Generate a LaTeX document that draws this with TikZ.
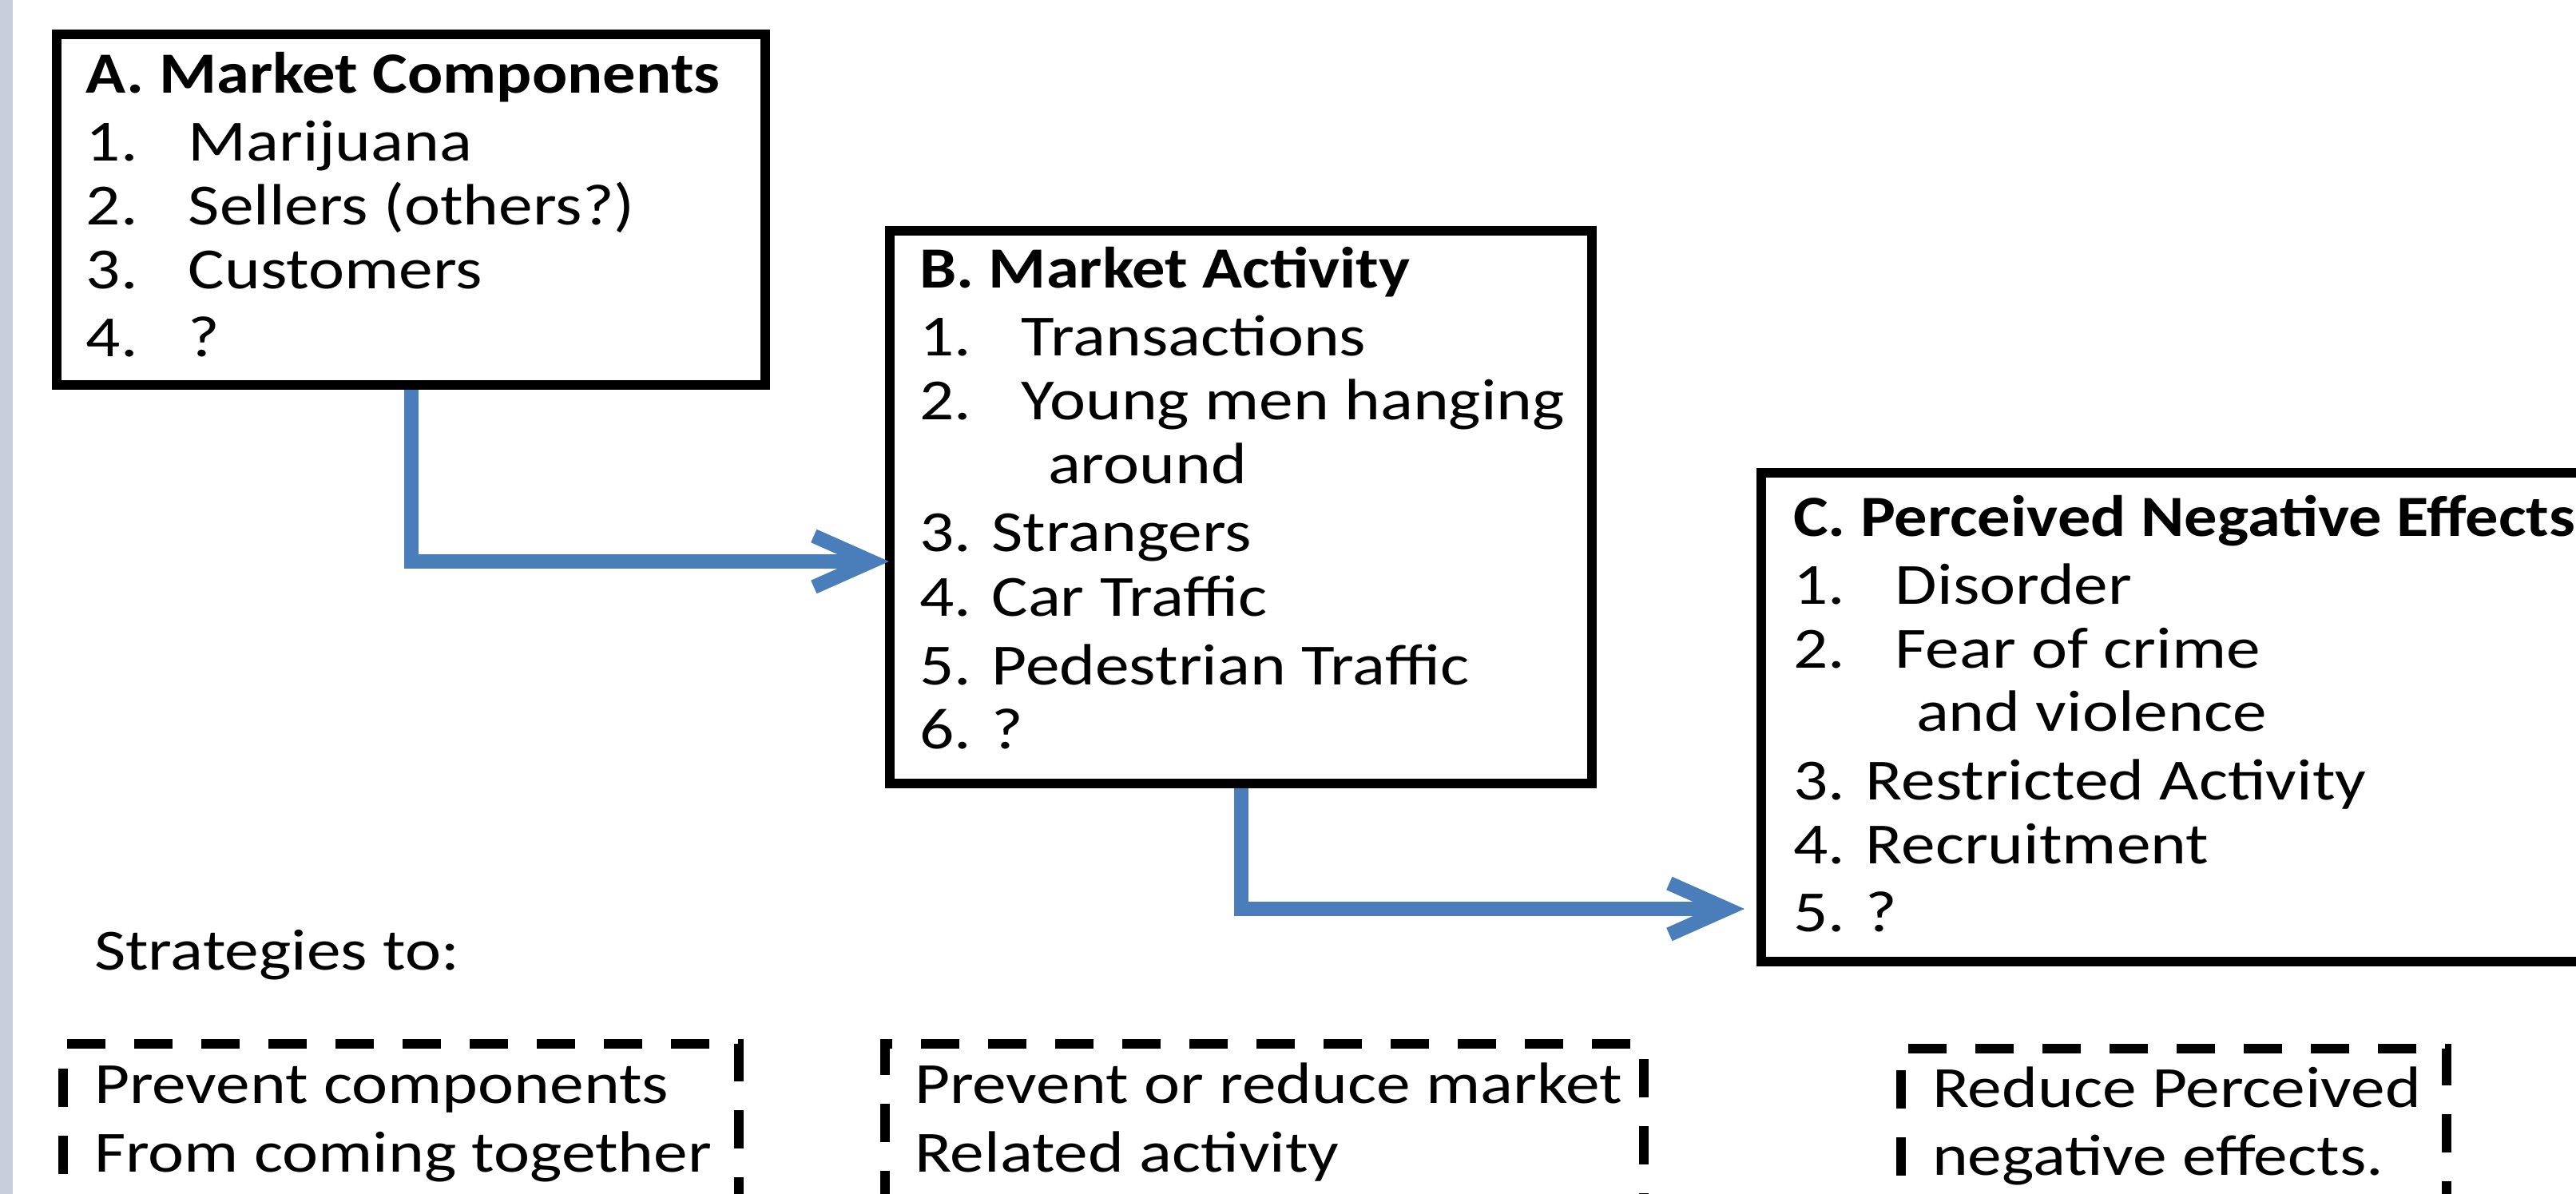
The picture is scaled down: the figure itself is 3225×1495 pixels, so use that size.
\documentclass[tikz,border=0pt]{standalone}
\usepackage{fontspec}
\setmainfont[FakeStretch=1.17, BoldFeatures={FakeStretch=1.13}]{Carlito}
\usetikzlibrary{arrows.meta}

\definecolor{flowblue}{HTML}{4A7EBB}
\definecolor{stripgrey}{HTML}{C8CEDB}
\newcommand{\itemno}[1]{\makebox[32pt][l]{#1}}

\tikzset{every picture/.style={line width=3pt}}

\begin{document}
\begin{tikzpicture}[x=0.25pt,y=0.25pt,yscale=-1,xscale=1,
  box/.style={draw, rectangle, line width=3pt, inner sep=0pt, outer sep=0pt},
  dashbox/.style={box, dash pattern=on 12pt off 9pt},
  txt/.style={anchor=base west, inner sep=0pt, font=\fontsize{18.25}{20.5}\selectfont},
  head/.style={txt, font=\fontsize{18.25}{20.5}\selectfont\bfseries},
  flow/.style={draw=flowblue, line width=4.5pt, shorten <=1.5pt, -{Straight Barb[length=18pt,width=16pt]}}]
\useasboundingbox (0,0) rectangle (3225,1495);
\clip (0,0) rectangle (3225,1495);
\fill[white] (0,0) rectangle (3225,1495);
%Shape: Rectangle (side strip)
\fill[stripgrey] (0,0) rectangle (16,1495);

%Shape: Rectangle [A]
\node[box, minimum width=221.75pt, minimum height=109.75pt] (boxA) at (514.5,262.5) {};
%Shape: Rectangle [B]
\node[box, minimum width=219.75pt, minimum height=173pt] (boxB) at (1553.5,635) {};
%Shape: Rectangle [C]
\node[box, minimum width=273.75pt, minimum height=153pt] (boxC) at (2752.5,898) {};

%Shape: Rectangle [dashed]
\node[dashbox, minimum width=211.5pt, minimum height=73.25pt] (stratA) at (502,1453.5) {};
\node[dashbox, minimum width=237.5pt, minimum height=73.25pt] (stratB) at (1583,1453.5) {};
\node[dashbox, minimum width=170.75pt, minimum height=71.75pt] (stratC) at (2721.5,1456.5) {};

\coordinate (hitB) at (1113,703);
\coordinate (hitC) at (2184,1138);
%Connector
\draw[flow] (boxA.south) |- (hitB);
%Connector
\draw[flow] (boxB.south) |- (hitC);

% Text Node
\node[head] (titleA) at (102,117) {A. Market Components};
\node[txt] (a1) at (102,202) {\itemno{1.}Marijuana};
\node[txt] (a2) at (102,282) {\itemno{2.}Sellers (others?)};
\node[txt] (a3) at (102,362) {\itemno{3.}Customers};
\node[txt] (a4) at (102,447) {\itemno{4.}?};

% Text Node
\node[head] (titleB) at (1145,361) {B. Market Activity};
\node[txt] (b1) at (1145,446) {\itemno{1.}Transactions};
\node[txt] (b2) at (1145,526) {\itemno{2.}Young men hanging};
\node[txt] (b2x) at (1306,606) {around};
\node[txt] (b3) at (1145,691) {3. Strangers};
\node[txt] (b4) at (1145,772) {4. Car Traffic};
\node[txt] (b5) at (1145,858) {5. Pedestrian Traffic};
\node[txt] (b6) at (1145,938) {6. ?};

% Text Node
\node[head] (titleC) at (2239,672) {C. Perceived Negative Effects};
\node[txt] (c1) at (2239,757) {\itemno{1.}Disorder};
\node[txt] (c2) at (2239,837) {\itemno{2.}Fear of crime};
\node[txt] (c2x) at (2393,916) {and violence};
\node[txt] (c3) at (2239,1002) {3. Restricted Activity};
\node[txt] (c4) at (2239,1082) {4. Recruitment};
\node[txt] (c5) at (2239,1167) {5. ?};

% Text Node
\node[txt] (strat) at (112,1215) {Strategies to:};
\node[txt] (sa1) at (112,1382) {Prevent components};
\node[txt] (sa2) at (112,1467) {From coming together};
\node[txt] (sb1) at (1139,1382) {Prevent or reduce market};
\node[txt] (sb2) at (1139,1467) {Related activity};
\node[txt] (sc1) at (2413,1387) {Reduce Perceived};
\node[txt] (sc2) at (2413,1472) {negative effects.};
\end{tikzpicture}
\end{document}
